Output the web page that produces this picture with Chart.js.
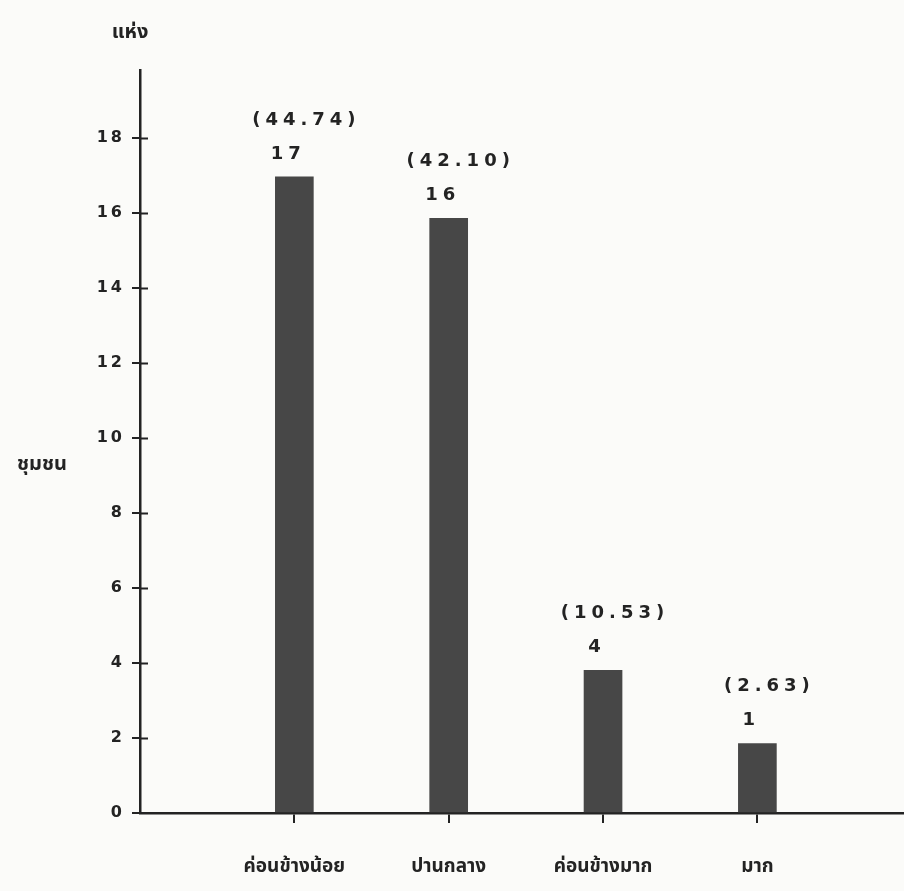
<!DOCTYPE html>
<html>
<head>
<meta charset="utf-8">
<script src="https://cdn.jsdelivr.net/npm/chart.js@4"></script>
<style>
  html, body { margin: 0; padding: 0; background: #fbfbf9; }
  #wrap { width: 904px; height: 891px; }
</style>
</head>
<body>
<div id="wrap"><canvas id="c" width="904" height="891"></canvas></div>
<script>
// ---- data ----
const categories = ['ค่อนข้างน้อย', 'ปานกลาง', 'ค่อนข้างมาก', 'มาก'];
const barHeights = [16.95, 15.85, 3.8, 1.85];   // bar tops as drawn
const counts = ['17', '16', '4', '1'];
const percents = ['(44.74)', '(42.10)', '(10.53)', '(2.63)'];
const yTickValues = [0, 2, 4, 6, 8, 10, 12, 14, 16, 18];
const yUnit = 'แห่ง';
const yTitle = 'ชุมชน';

const INK = '#232323';
const NUM_FONT = 'bold 18px "DejaVu Sans", sans-serif';
const THAI_FAMILY = '"Noto Sans Thai", "Noto Sans", "DejaVu Sans", sans-serif';

const paperPlugin = {
  id: 'paper',
  beforeDraw(chart) {
    const ctx = chart.ctx;
    ctx.save();
    ctx.fillStyle = '#fbfbf9';
    ctx.fillRect(0, 0, chart.width, chart.height);
    ctx.restore();
    const ys = chart.scales.y;
    if (!ys._lsWrapped) {
      const orig = ys.drawLabels.bind(ys);
      ys.drawLabels = (area) => {
        const c = chart.ctx;
        const prev = c.letterSpacing;
        c.letterSpacing = '3px';
        orig(area);
        c.letterSpacing = prev || '0px';
      };
      ys._lsWrapped = true;
    }
  },
  afterDraw(chart) {
    const ctx = chart.ctx;
    const ys = chart.scales.y;
    const area = chart.chartArea;
    // inner half of the crossing y ticks
    ctx.save();
    ctx.strokeStyle = INK;
    ctx.lineWidth = 2;
    yTickValues.forEach(v => {
      if (v === 0) return;
      const py = Math.round(ys.getPixelForValue(v)) + 0.5;
      ctx.beginPath();
      ctx.moveTo(area.left, py);
      ctx.lineTo(area.left + 8, py);
      ctx.stroke();
    });
    // unit and title
    ctx.fillStyle = INK;
    ctx.textAlign = 'center';
    ctx.textBaseline = 'middle';
    ctx.letterSpacing = '0px';
    ctx.font = 'bold 20px ' + THAI_FAMILY;
    ctx.fillText(yUnit, 130, 34);
    ctx.fillText(yTitle, 42, 466);
    ctx.restore();
  },
  afterDatasetsDraw(chart) {
    const ctx = chart.ctx;
    const meta = chart.getDatasetMeta(0);
    ctx.save();
    ctx.fillStyle = INK;
    ctx.font = NUM_FONT;
    ctx.letterSpacing = '5px';
    ctx.textAlign = 'center';
    ctx.textBaseline = 'middle';
    meta.data.forEach((bar, i) => {
      ctx.fillText(counts[i], bar.x - 6, bar.y - 23);
      ctx.fillText(percents[i], bar.x + 12, bar.y - 57);
    });
    ctx.restore();
  }
};

new Chart(document.getElementById('c'), {
  type: 'bar',
  data: {
    datasets: [{
      data: categories.map((c, i) => ({ x: i + 1, y: barHeights[i] })),
      backgroundColor: '#474747',
      borderWidth: 0,
      barThickness: 38
    }]
  },
  options: {
    responsive: false,
    animation: false,
    devicePixelRatio: 1,
    layout: { padding: { top: 70, right: 0, left: 0, bottom: 0 } },
    plugins: { legend: { display: false }, tooltip: { enabled: false }, title: { display: false } },
    scales: {
      x: {
        type: 'linear',
        offset: false,
        min: 0,
        max: 4.95,
        afterBuildTicks: s => { s.ticks = categories.map((c, i) => ({ value: i + 1 })); },
        afterFit: s => { s.height = 78; },
        ticks: {
          autoSkip: false,
          maxRotation: 0,
          padding: 34,
          color: INK,
          font: { family: THAI_FAMILY, size: 19, weight: 'bold' },
          callback: (v) => categories[Math.round(v) - 1]
        },
        grid: { offset: false, drawOnChartArea: false, drawTicks: true, tickLength: 10, color: INK, lineWidth: 2 },
        border: { display: true, color: INK, width: 2.5 }
      },
      y: {
        min: 0,
        max: 19.8,
        afterBuildTicks: s => { s.ticks = yTickValues.map(v => ({ value: v })); },
        afterFit: s => { s.width = 140; },
        ticks: {
          padding: 7,
          color: INK,
          font: { family: '"DejaVu Sans", sans-serif', size: 16, weight: 'bold' }
        },
        grid: { drawOnChartArea: false, drawTicks: true, tickLength: 8, color: INK, lineWidth: 2 },
        border: { display: true, color: INK, width: 2.5 }
      }
    }
  },
  plugins: [paperPlugin]
});
</script>
</body>
</html>
